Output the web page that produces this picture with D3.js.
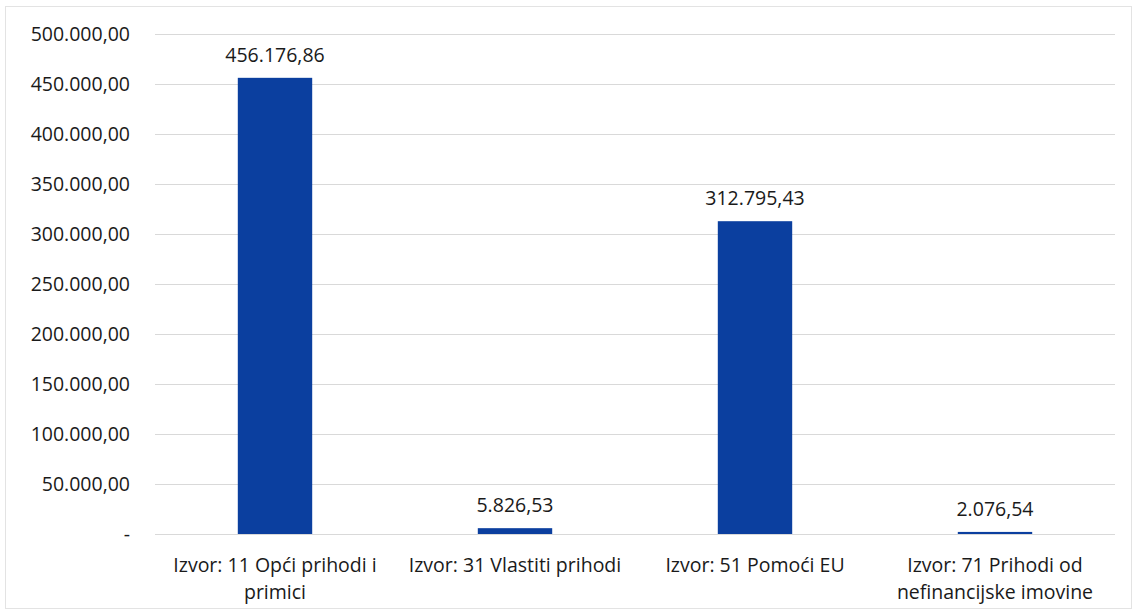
<!DOCTYPE html>
<html>
<head>
<meta charset="utf-8">
<script src="https://cdn.jsdelivr.net/npm/d3@7"></script>
<style>
  body { margin: 0; background: #fff; }
  text { font-family: "Open Sans", "Noto Sans", sans-serif; fill: #1a1a1a; }
</style>
</head>
<body>
<svg id="chart" width="1137" height="614"></svg>
<script>
// data
const categories = [
    ["Izvor: 11 Opći prihodi i", "primici"],
    ["Izvor: 31 Vlastiti prihodi"],
    ["Izvor: 51 Pomoći EU"],
    ["Izvor: 71 Prihodi od", "nefinancijske imovine"]
];
const values = [456176.86, 5826.53, 312795.43, 2076.54];
const yTicks = [0, 50000, 100000, 150000, 200000, 250000, 300000, 350000, 400000, 450000, 500000];

const margin = { top: 34, right: 22, bottom: 80, left: 155 };
const width = 1137, height = 614;

const svg = d3.select("#chart");

// outer border
svg.append("rect")
    .attr("x", 5.5).attr("y", 6.5)
    .attr("width", 1126).attr("height", 602)
    .attr("fill", "none")
    .attr("stroke", "#e3e3e3");

const graph = svg.append("g")
    .attr("transform", `translate(${margin.left}, ${margin.top})`);

const innerW = width - margin.left - margin.right;
const innerH = height - margin.top - margin.bottom;

const x = d3.scaleBand()
    .domain(d3.range(categories.length))
    .range([0, innerW])
    .paddingInner(0.69)
    .paddingOuter(0.345);

const y = d3.scaleLinear()
    .domain([0, 500000])
    .range([innerH, 0]);

const fmt = d3.formatLocale({ decimal: ",", thousands: ".", grouping: [3], currency: ["", ""] }).format(",.2f");

// gridlines
graph.append("g")
    .selectAll("line")
    .data(yTicks)
    .join("line")
    .attr("x1", 0).attr("x2", innerW)
    .attr("y1", d => Math.round(y(d)) + 0.5)
    .attr("y2", d => Math.round(y(d)) + 0.5)
    .attr("stroke", "#d9d9d9")
    .attr("stroke-width", 1);

// y axis labels
const yAxis = d3.axisLeft(y)
    .tickValues(yTicks)
    .tickSize(0)
    .tickPadding(25)
    .tickFormat(d => d === 0 ? "-" : fmt(d));

const yAxisGroup = graph.append("g").call(yAxis);
yAxisGroup.select(".domain").remove();
yAxisGroup.selectAll("text")
    .style("font-size", "19.5px")
    .attr("fill", "#1a1a1a");

// bars
graph.selectAll("rect.bar")
    .data(values)
    .join("rect")
    .attr("class", "bar")
    .attr("x", (d, i) => x(i))
    .attr("width", x.bandwidth())
    .attr("y", d => y(d))
    .attr("height", d => innerH - y(d))
    .attr("fill", "#0b3f9f");

// value labels
graph.selectAll("text.val")
    .data(values)
    .join("text")
    .attr("class", "val")
    .attr("x", (d, i) => x(i) + x.bandwidth() / 2)
    .attr("y", d => y(d) - 16)
    .attr("text-anchor", "middle")
    .style("font-size", "19.5px")
    .text(d => fmt(d));

// category labels
const catGroup = graph.append("g")
    .attr("transform", `translate(0, ${innerH})`);

categories.forEach((lines, i) => {
    const t = catGroup.append("text")
        .attr("x", x(i) + x.bandwidth() / 2)
        .attr("y", 38)
        .attr("text-anchor", "middle")
        .style("font-size", "19.5px");
    lines.forEach((ln, j) => {
        t.append("tspan")
            .attr("x", x(i) + x.bandwidth() / 2)
            .attr("dy", j === 0 ? 0 : 27)
            .text(ln);
    });
});
</script>
</body>
</html>
